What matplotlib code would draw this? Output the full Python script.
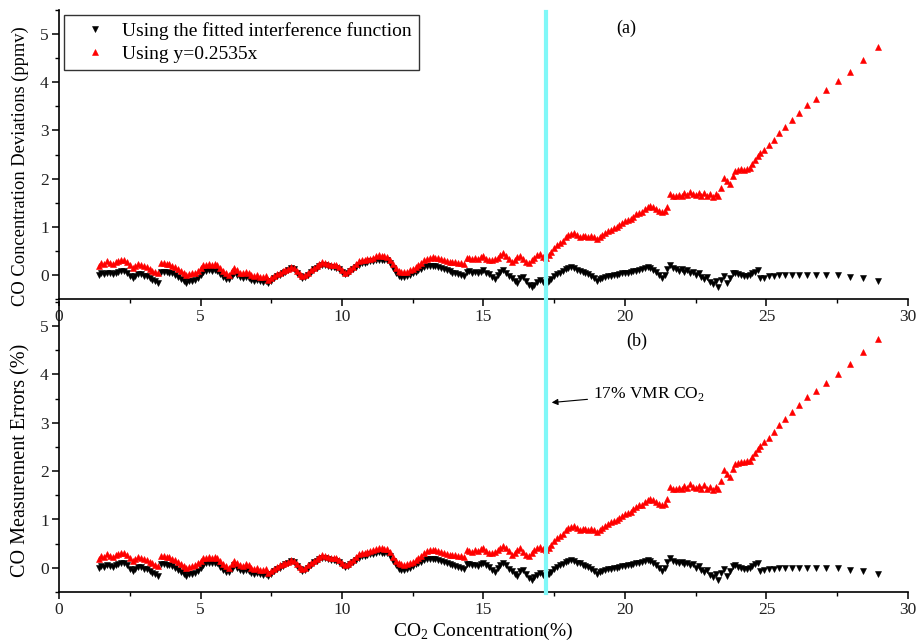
import matplotlib
matplotlib.use("Agg")
import matplotlib.pyplot as plt
from matplotlib.ticker import MultipleLocator
from matplotlib.transforms import blended_transform_factory
from matplotlib.lines import Line2D

plt.rcParams['font.family'] = ['Liberation Serif', 'DejaVu Serif']
plt.rcParams['mathtext.fontset'] = 'custom'
plt.rcParams['mathtext.rm'] = 'Liberation Serif'

# CO2 concentration (%) of each measurement
co2 = [
    1.4, 1.5, 1.6, 1.7, 1.8, 1.9, 2.0, 2.1, 2.2, 2.3,
    2.4, 2.5, 2.6, 2.7, 2.8, 2.9, 3.0, 3.1, 3.2, 3.3,
    3.4, 3.5, 3.6, 3.7, 3.8, 3.9, 4.0, 4.1, 4.2, 4.3,
    4.4, 4.5, 4.6, 4.7, 4.8, 4.9, 5.0, 5.1, 5.2, 5.3,
    5.4, 5.5, 5.6, 5.7, 5.8, 5.9, 6.0, 6.1, 6.2, 6.3,
    6.4, 6.5, 6.6, 6.7, 6.8, 6.9, 7.0, 7.1, 7.2, 7.3,
    7.4, 7.5, 7.6, 7.7, 7.8, 7.9, 8.0, 8.1, 8.2, 8.3,
    8.4, 8.5, 8.6, 8.7, 8.8, 8.9, 9.0, 9.1, 9.2, 9.3,
    9.4, 9.5, 9.6, 9.7, 9.8, 9.9, 10.0, 10.1, 10.2, 10.3,
    10.4, 10.5, 10.6, 10.7, 10.8, 10.9, 11.0, 11.1, 11.2, 11.3,
    11.4, 11.5, 11.6, 11.7, 11.8, 11.9, 12.0, 12.1, 12.2, 12.3,
    12.4, 12.5, 12.6, 12.7, 12.8, 12.9, 13.0, 13.1, 13.2, 13.3,
    13.4, 13.5, 13.6, 13.7, 13.8, 13.9, 14.0, 14.1, 14.2, 14.3,
    14.4, 14.5, 14.6, 14.7, 14.8, 14.9, 15.0, 15.1, 15.2, 15.3,
    15.4, 15.5, 15.6, 15.7, 15.8, 15.9, 16.0, 16.1, 16.2, 16.3,
    16.4, 16.5, 16.6, 16.7, 16.8, 16.9, 17.0, 17.1, 17.2, 17.3,
    17.4, 17.5, 17.6, 17.7, 17.8, 17.9, 18.0, 18.1, 18.2, 18.3,
    18.4, 18.5, 18.6, 18.7, 18.8, 18.9, 19.0, 19.1, 19.2, 19.3,
    19.4, 19.5, 19.6, 19.7, 19.8, 19.9, 20.0, 20.1, 20.2, 20.3,
    20.4, 20.5, 20.6, 20.7, 20.8, 20.9, 21.0, 21.1, 21.2, 21.3,
    21.4, 21.5, 21.6, 21.7, 21.8, 21.9, 22.0, 22.1, 22.2, 22.3,
    22.4, 22.5, 22.6, 22.7, 22.8, 22.9, 23.0, 23.1, 23.2, 23.3,
    23.4, 23.5, 23.6, 23.7, 23.8, 23.9, 24.0, 24.1, 24.2, 24.3,
    24.4, 24.5, 24.6, 24.7,
    24.77, 24.91, 25.09, 25.27, 25.45, 25.65, 25.89, 26.15,
    26.44, 26.76, 27.11, 27.52, 27.94, 28.42, 28.94,
]

# CO deviation obtained with the fitted interference function
fitted = [
    0.00, 0.04, 0.02, 0.05, 0.03, 0.02, 0.05, 0.07, 0.09, 0.09,
    0.05, -0.02, -0.07, -0.03, 0.02, 0.01, -0.02, -0.03, -0.06, -0.10,
    -0.13, -0.16, 0.07, 0.07, 0.06, 0.05, 0.03, 0.00, -0.04, -0.08,
    -0.12, -0.16, -0.13, -0.12, -0.11, -0.07, 0.00, 0.06, 0.09, 0.10,
    0.09, 0.10, 0.09, 0.02, -0.04, -0.08, -0.09, -0.02, 0.05, 0.00,
    -0.05, -0.07, -0.04, -0.07, -0.10, -0.12, -0.10, -0.13, -0.14, -0.12,
    -0.16, -0.12, -0.07, -0.03, 0.00, 0.04, 0.07, 0.10, 0.14, 0.12,
    0.04, -0.03, -0.07, -0.05, 0.00, 0.06, 0.12, 0.15, 0.18, 0.21,
    0.20, 0.18, 0.17, 0.16, 0.15, 0.12, 0.06, 0.02, 0.04, 0.08,
    0.12, 0.16, 0.21, 0.24, 0.25, 0.27, 0.28, 0.29, 0.31, 0.32,
    0.31, 0.31, 0.30, 0.24, 0.14, 0.05, -0.02, -0.05, -0.04, -0.02,
    0.00, 0.04, 0.07, 0.10, 0.13, 0.16, 0.18, 0.19, 0.19, 0.18,
    0.16, 0.15, 0.13, 0.11, 0.08, 0.05, 0.03, 0.01, -0.01, -0.03,
    0.07, 0.08, 0.05, 0.06, 0.03, 0.07, 0.10, 0.05, 0.01, -0.05,
    -0.08, 0.00, 0.06, 0.10, 0.05, -0.02, -0.07, -0.12, -0.17, -0.07,
    -0.05, -0.12, -0.21, -0.25, -0.20, -0.14, -0.10, -0.14, -0.20, -0.12,
    -0.08, -0.03, 0.02, 0.05, 0.08, 0.12, 0.14, 0.16, 0.15, 0.11,
    0.09, 0.06, 0.04, 0.02, -0.02, -0.07, -0.12, -0.09, -0.07, -0.04,
    -0.03, -0.02, -0.01, 0.00, 0.01, 0.03, 0.04, 0.05, 0.06, 0.08,
    0.09, 0.10, 0.12, 0.14, 0.16, 0.15, 0.11, 0.06, -0.01, -0.07,
    0.00, 0.12, 0.21, 0.15, 0.12, 0.09, 0.13, 0.07, 0.10, 0.05,
    0.07, 0.00, 0.03, -0.05, -0.08, -0.05, -0.14, -0.18, -0.12, -0.25,
    -0.10, -0.02, -0.17, -0.06, 0.03, 0.05, 0.01, 0.00, -0.02, -0.03,
    0.00, 0.03, 0.07, 0.10,
    -0.06, -0.055, -0.03, -0.015, -0.005, -0.005, -0.005, 0.00,
    0.00, 0.00, 0.005, -0.005, -0.05, -0.06, -0.12,
]

# CO deviation obtained with the linear correction y = 0.2535x
linear = [
    0.19, 0.24, 0.22, 0.28, 0.25, 0.23, 0.26, 0.28, 0.30, 0.31,
    0.27, 0.21, 0.15, 0.18, 0.22, 0.21, 0.18, 0.17, 0.13, 0.09,
    0.06, 0.03, 0.24, 0.25, 0.23, 0.22, 0.18, 0.16, 0.13, 0.08,
    0.04, 0.00, 0.02, 0.03, 0.05, 0.09, 0.15, 0.20, 0.21, 0.22,
    0.21, 0.22, 0.20, 0.14, 0.08, 0.03, 0.00, 0.08, 0.15, 0.10,
    0.05, 0.03, 0.07, 0.05, 0.00, -0.03, 0.00, -0.04, -0.05, -0.03,
    -0.10, -0.06, -0.02, 0.02, 0.05, 0.08, 0.10, 0.13, 0.17, 0.15,
    0.08, 0.02, -0.02, 0.00, 0.05, 0.10, 0.14, 0.18, 0.23, 0.26,
    0.25, 0.22, 0.21, 0.20, 0.21, 0.17, 0.10, 0.05, 0.08, 0.12,
    0.17, 0.22, 0.28, 0.30, 0.31, 0.33, 0.34, 0.36, 0.39, 0.41,
    0.40, 0.39, 0.38, 0.32, 0.23, 0.15, 0.09, 0.07, 0.06, 0.07,
    0.10, 0.13, 0.16, 0.20, 0.25, 0.30, 0.34, 0.36, 0.37, 0.36,
    0.35, 0.33, 0.31, 0.29, 0.27, 0.26, 0.26, 0.25, 0.24, 0.23,
    0.36, 0.35, 0.33, 0.36, 0.34, 0.38, 0.40, 0.34, 0.31, 0.30,
    0.33, 0.36, 0.42, 0.46, 0.40, 0.34, 0.27, 0.30, 0.37, 0.40,
    0.33, 0.26, 0.25, 0.30, 0.36, 0.42, 0.44, 0.38, 0.36, 0.42,
    0.48, 0.55, 0.62, 0.66, 0.70, 0.78, 0.82, 0.84, 0.86, 0.83,
    0.79, 0.80, 0.81, 0.79, 0.80, 0.78, 0.75, 0.79, 0.83, 0.87,
    0.91, 0.94, 0.97, 0.99, 1.03, 1.07, 1.11, 1.13, 1.16, 1.21,
    1.26, 1.29, 1.31, 1.36, 1.41, 1.43, 1.40, 1.37, 1.33, 1.30,
    1.33, 1.42, 1.68, 1.64, 1.63, 1.66, 1.63, 1.70, 1.65, 1.73,
    1.68, 1.66, 1.70, 1.64, 1.71, 1.63, 1.68, 1.62, 1.68, 1.64,
    1.80, 2.02, 1.95, 1.88, 2.05, 2.15, 2.17, 2.19, 2.18, 2.20,
    2.22, 2.30, 2.38, 2.46,
    2.53, 2.60, 2.69, 2.81, 2.95, 3.08, 3.22, 3.36,
    3.53, 3.65, 3.83, 4.02, 4.21, 4.46, 4.73,
]

threshold_co2 = 17.2
x_ticks = [0, 5, 10, 15, 20, 25, 30]
y_ticks = [0, 1, 2, 3, 4, 5]

W, H = 917, 644
fig = plt.figure(figsize=(W / 100, H / 100), dpi=100)


def px_box(left, top, right, bottom):
    return [left / W, 1 - bottom / H, (right - left) / W, (bottom - top) / H]


ax_a = fig.add_axes(px_box(59, 10, 908, 299))
ax_b = fig.add_axes(px_box(59, 302, 908, 592))

tick_col = '#222222'
for ax in (ax_a, ax_b):
    ax.plot(co2, fitted, linestyle='none', marker='v', ms=4.7,
            color='black', mec='black', mew=0.4,
            label='Using the fitted interference function')
    ax.plot(co2, linear, linestyle='none', marker='^', ms=4.7,
            color='red', mec='red', mew=0.4, label='Using y=0.2535x')
    ax.set_xlim(0, 30)
    ax.set_ylim(-0.5, 5.5)
    ax.set_xticks(x_ticks)
    ax.set_yticks(y_ticks)
    ax.xaxis.set_minor_locator(MultipleLocator(2.5))
    ax.yaxis.set_minor_locator(MultipleLocator(0.5))
    for s in ('top', 'right'):
        ax.spines[s].set_visible(False)
    for s in ('left', 'bottom'):
        ax.spines[s].set_linewidth(1.2)
    ax.tick_params(which='major', direction='out', length=4.8, width=1.1,
                   labelsize=12.5, labelcolor=tick_col, pad=2.5)
    ax.tick_params(which='minor', direction='out', length=2.8, width=1.0)
    ax.patch.set_alpha(0)

ax_a.set_ylabel('CO Concentration Deviations (ppmv)', fontsize=13.3)
ax_a.yaxis.set_label_coords(-0.035, 0.46)
ax_b.set_ylabel('CO Measurement Errors (%)', fontsize=14.5)
ax_b.yaxis.set_label_coords(-0.034, 0.455)
ax_b.set_xlabel(r'CO$_\mathregular{2}$ Concentration(%)', fontsize=14)
ax_b.xaxis.set_label_coords(0.5, -0.1)

ax_a.text(20.03, 5.12, '(a)', fontsize=13, ha='center', va='center')
ax_b.text(20.4, 4.68, '(b)', fontsize=13, ha='center', va='center')

ax_b.annotate(r'17% VMR CO$_\mathregular{2}$', xy=(17.41, 3.42),
              xytext=(18.87, 3.6), fontsize=12.5, ha='left', va='center',
              arrowprops=dict(arrowstyle='-|>', color='black', lw=0.8,
                              mutation_scale=9, shrinkA=2, shrinkB=0))

# threshold line running through both panels
trans = blended_transform_factory(ax_a.transData, fig.transFigure)
fig.add_artist(Line2D([threshold_co2, threshold_co2],
                      [1 - 12 / H, 1 - 593 / H], transform=trans,
                      color='#80f8f8', lw=3.0, zorder=5))

leg = ax_a.legend(loc='upper left', bbox_to_anchor=(0.006, 0.983),
                  borderaxespad=0, fontsize=14, frameon=True, fancybox=False,
                  edgecolor='#333333', framealpha=1, handlelength=2.4,
                  handletextpad=0.2, borderpad=0.37, labelspacing=0.27,
                  numpoints=1, markerscale=0.9)
leg.get_frame().set_linewidth(1.0)

fig.savefig('out.png', dpi=100)
